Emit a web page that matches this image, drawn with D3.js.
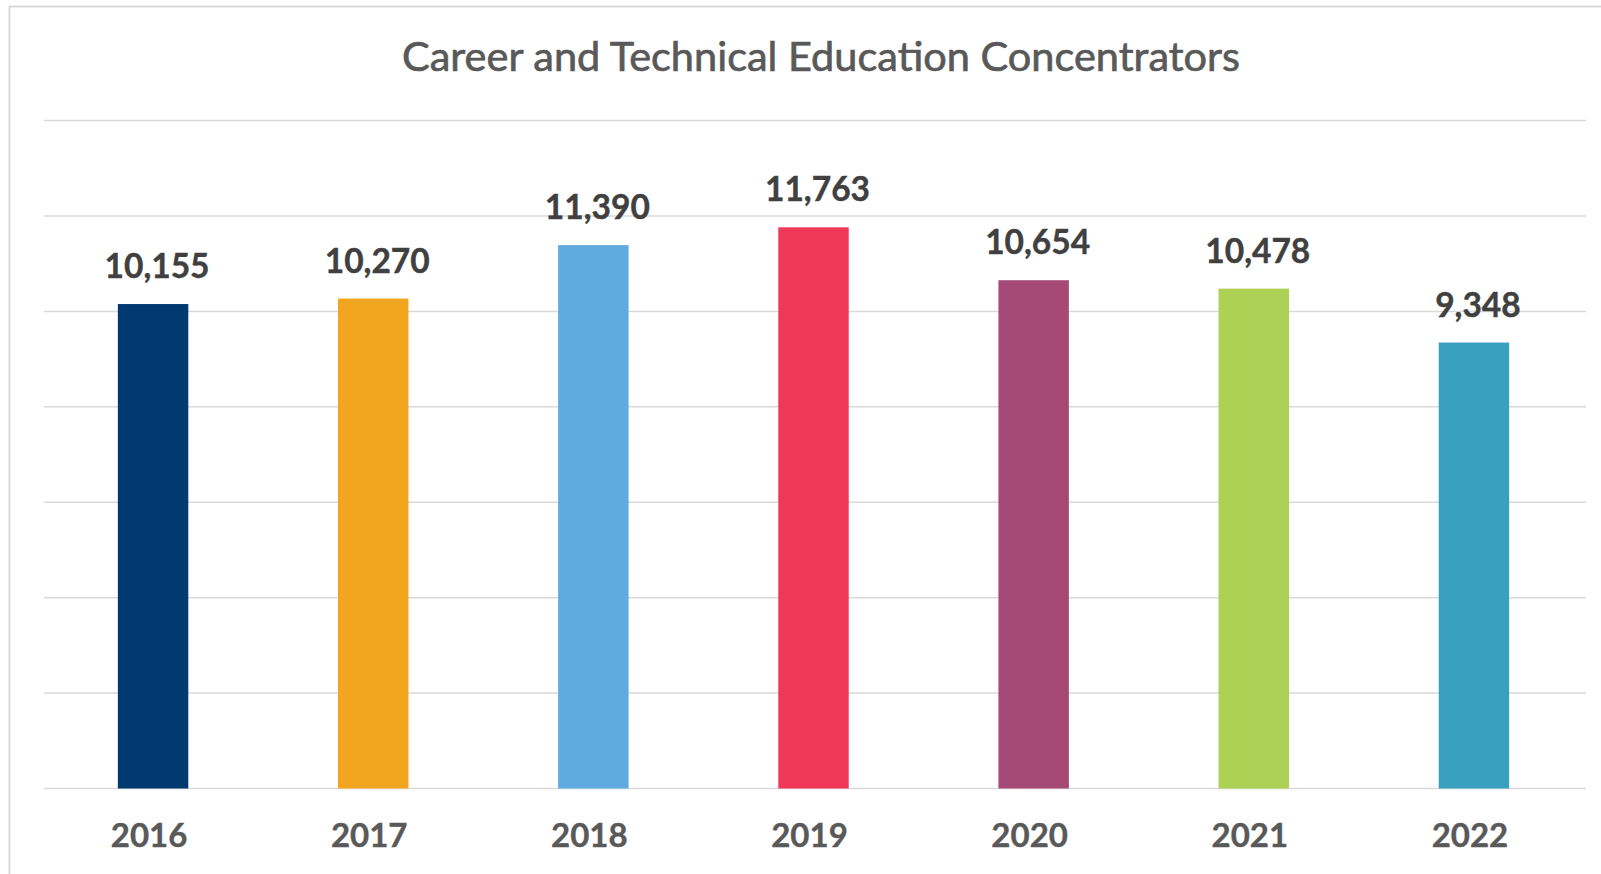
<!DOCTYPE html>
<html>
<head>
<meta charset="utf-8">
<script src="https://cdn.jsdelivr.net/npm/d3@7"></script>
<style>
  html, body { margin: 0; padding: 0; background: #fff; overflow: hidden; }
  svg { display: block; font-family: Lato, "Open Sans", sans-serif; }
</style>
</head>
<body>
<svg width="1601" height="874"></svg>
<script>
(function() {
  // chart data
  var years = ["2016", "2017", "2018", "2019", "2020", "2021", "2022"];
  var counts = [10155, 10270, 11390, 11763, 10654, 10478, 9348];
  var barColors = ["#003a70", "#f2a51f", "#5faade", "#ee3759", "#a54a76", "#add155", "#3aa0bf"];
  var gridTicks = [0, 2000, 4000, 6000, 8000, 10000, 12000, 14000];
  var title = "Career and Technical Education Concentrators";

  var svg = d3.select("svg");

  var x = d3.scaleBand()
      .domain(years)
      .range([43, 1584])
      .paddingInner(0.68)
      .paddingOuter(0.34);

  var y = d3.scaleLinear()
      .domain([0, 14000])
      .range([788.5, 120.6]);

  var fmt = d3.format(",");

  // chart frame
  svg.append("rect")
      .attr("x", 9.5)
      .attr("y", 6.5)
      .attr("width", 1640)
      .attr("height", 900)
      .attr("fill", "#fff")
      .attr("stroke", "#d9d9d9")
      .attr("stroke-width", 2);

  // gridlines
  svg.append("g")
      .attr("class", "grid")
    .selectAll("line")
    .data(gridTicks)
    .enter().append("line")
      .attr("x1", 44)
      .attr("x2", 1586)
      .attr("y1", function(d) { return y(d); })
      .attr("y2", function(d) { return y(d); })
      .attr("stroke", "#d9d9d9")
      .attr("stroke-width", 1.5);

  // bars
  svg.append("g")
      .attr("class", "bars")
    .selectAll("rect")
    .data(counts)
    .enter().append("rect")
      .attr("x", function(d, i) { return x(years[i]); })
      .attr("width", x.bandwidth())
      .attr("y", function(d) { return y(d); })
      .attr("height", function(d) { return y(0) - y(d); })
      .attr("fill", function(d, i) { return barColors[i]; });

  // value labels
  svg.append("g")
      .attr("class", "values")
    .selectAll("text")
    .data(counts)
    .enter().append("text")
      .attr("x", function(d, i) { return x(years[i]) + x.bandwidth() / 2 + 4; })
      .attr("y", function(d) { return y(d) - 26; })
      .attr("text-anchor", "middle")
      .attr("font-size", 33.5)
      .attr("font-weight", "bold")
      .attr("fill", "#404040")
      .attr("stroke", "#404040")
      .attr("stroke-width", 0.4)
      .text(function(d) { return fmt(d); });

  // x axis labels
  var xAxis = svg.append("g")
      .attr("transform", "translate(-4," + y(0) + ")")
      .call(d3.axisBottom(x).tickSize(0).tickPadding(0));
  xAxis.select(".domain").remove();
  xAxis.selectAll("text")
      .attr("dy", null)
      .attr("y", 58)
      .attr("font-family", "Lato, 'Open Sans', sans-serif")
      .attr("font-size", 33)
      .attr("font-weight", "bold")
      .attr("fill", "#595959")
      .attr("stroke", "#595959")
      .attr("stroke-width", 0.4);

  // title
  var t = svg.append("text")
      .attr("x", 821)
      .attr("y", 71)
      .attr("text-anchor", "middle")
      .attr("font-size", 40)
      .attr("fill", "#595959")
      .attr("stroke", "#595959")
      .attr("stroke-width", 0.7)
      .text(title);
  var len = t.node().getComputedTextLength();
  t.attr("font-size", 40 * 838 / len);
})();
</script>
</body>
</html>
